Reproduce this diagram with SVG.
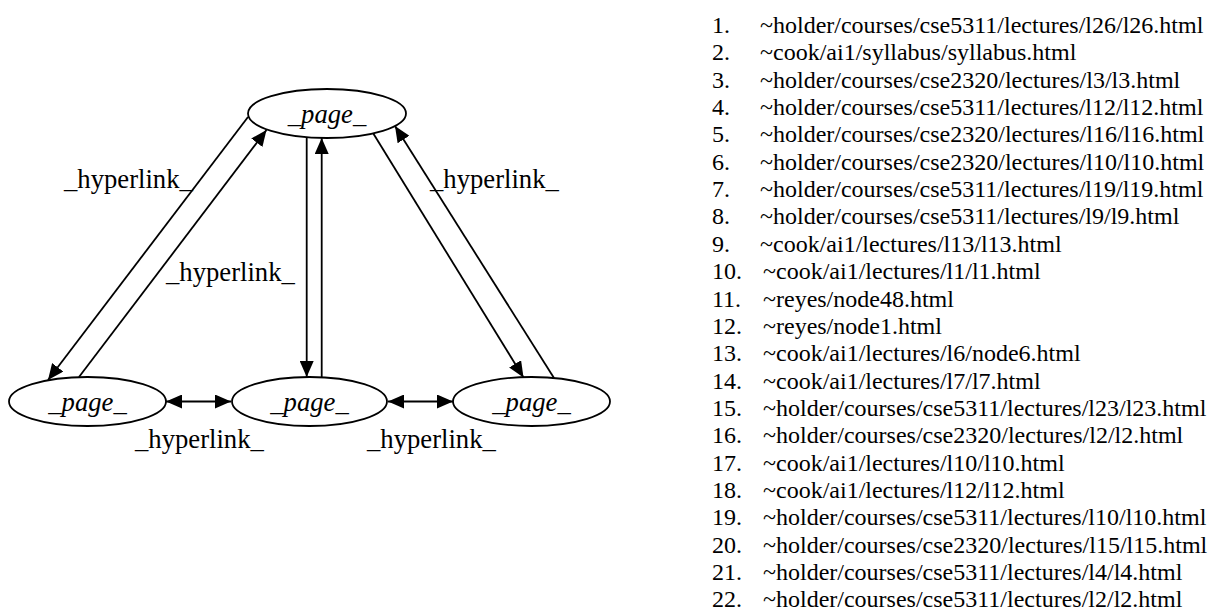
<svg xmlns="http://www.w3.org/2000/svg" width="1210" height="612" viewBox="0 0 1210 612">
<style>
  .node ellipse { fill: #ffffff; stroke: #000000; stroke-width: 1.8; }
  .node text { font-family: "Liberation Serif", "Times New Roman", serif; font-style: italic; font-size: 26.67px; text-anchor: middle; fill: #000; }
  .edge { stroke: #000; stroke-width: 1.8; fill: none; }
  .elabel { font-family: "Liberation Serif", "Times New Roman", serif; font-size: 26.67px; fill: #000; }
  .list text { font-family: "Liberation Serif", "Times New Roman", serif; font-size: 24px; fill: #000; }
</style>
<defs>
  <marker id="arrow" markerUnits="userSpaceOnUse" markerWidth="17" markerHeight="14" refX="16" refY="7" orient="auto-start-reverse" viewBox="0 0 17 14">
    <path d="M0,0 L16,7 L0,14 z" fill="#000"/>
  </marker>
</defs>
<rect width="1210" height="612" fill="#ffffff"/>

<g id="connectors">
  <line class="edge" x1="248" y1="117" x2="48" y2="380" marker-end="url(#arrow)"/>
  <line class="edge" x1="79" y1="377" x2="266.5" y2="130" marker-end="url(#arrow)"/>
  <line class="edge" x1="306.7" y1="137" x2="306.7" y2="377" marker-end="url(#arrow)"/>
  <line class="edge" x1="321.7" y1="377.3" x2="321.7" y2="138" marker-end="url(#arrow)"/>
  <line class="edge" x1="373" y1="133" x2="523.5" y2="377.5" marker-end="url(#arrow)"/>
  <line class="edge" x1="554" y1="378" x2="395" y2="126" marker-end="url(#arrow)"/>
  <line class="edge" x1="166" y1="401.5" x2="231" y2="401.5" marker-start="url(#arrow)" marker-end="url(#arrow)"/>
  <line class="edge" x1="388" y1="401.5" x2="453" y2="401.5" marker-start="url(#arrow)" marker-end="url(#arrow)"/>
  <text class="elabel" x="64" y="188">_hyperlink_</text>
  <text class="elabel" x="166" y="281">_hyperlink_</text>
  <text class="elabel" x="430" y="188">_hyperlink_</text>
  <text class="elabel" x="135" y="448">_hyperlink_</text>
  <text class="elabel" x="367" y="448">_hyperlink_</text>
</g>

<g id="node-top" class="node">
  <ellipse cx="327" cy="113.5" rx="79" ry="24.5"/>
  <text x="327" y="123">_page_</text>
</g>
<g id="node-left" class="node">
  <ellipse cx="87.5" cy="401.5" rx="78.5" ry="24.5"/>
  <text x="87.5" y="411">_page_</text>
</g>
<g id="node-middle" class="node">
  <ellipse cx="309.5" cy="401.5" rx="77.5" ry="24.5"/>
  <text x="309.5" y="411">_page_</text>
</g>
<g id="node-right" class="node">
  <ellipse cx="531.5" cy="401.5" rx="78.5" ry="24.5"/>
  <text x="531.5" y="411">_page_</text>
</g>

<g id="list" class="list">
  <text x="712" y="33">1.</text><text x="760" y="33">~holder/courses/cse5311/lectures/l26/l26.html</text>
  <text x="712" y="60.3">2.</text><text x="760" y="60.3">~cook/ai1/syllabus/syllabus.html</text>
  <text x="712" y="87.7">3.</text><text x="760" y="87.7">~holder/courses/cse2320/lectures/l3/l3.html</text>
  <text x="712" y="115">4.</text><text x="760" y="115">~holder/courses/cse5311/lectures/l12/l12.html</text>
  <text x="712" y="142.4">5.</text><text x="760" y="142.4">~holder/courses/cse2320/lectures/l16/l16.html</text>
  <text x="712" y="169.7">6.</text><text x="760" y="169.7">~holder/courses/cse2320/lectures/l10/l10.html</text>
  <text x="712" y="197.1">7.</text><text x="760" y="197.1">~holder/courses/cse5311/lectures/l19/l19.html</text>
  <text x="712" y="224.4">8.</text><text x="760" y="224.4">~holder/courses/cse5311/lectures/l9/l9.html</text>
  <text x="712" y="251.8">9.</text><text x="760" y="251.8">~cook/ai1/lectures/l13/l13.html</text>
  <text x="712" y="279.1">10.</text><text x="763" y="279.1">~cook/ai1/lectures/l1/l1.html</text>
  <text x="712" y="306.5">11.</text><text x="763" y="306.5">~reyes/node48.html</text>
  <text x="712" y="333.8">12.</text><text x="763" y="333.8">~reyes/node1.html</text>
  <text x="712" y="361.2">13.</text><text x="763" y="361.2">~cook/ai1/lectures/l6/node6.html</text>
  <text x="712" y="388.5">14.</text><text x="763" y="388.5">~cook/ai1/lectures/l7/l7.html</text>
  <text x="712" y="415.9">15.</text><text x="763" y="415.9">~holder/courses/cse5311/lectures/l23/l23.html</text>
  <text x="712" y="443.2">16.</text><text x="763" y="443.2">~holder/courses/cse2320/lectures/l2/l2.html</text>
  <text x="712" y="470.6">17.</text><text x="763" y="470.6">~cook/ai1/lectures/l10/l10.html</text>
  <text x="712" y="497.9">18.</text><text x="763" y="497.9">~cook/ai1/lectures/l12/l12.html</text>
  <text x="712" y="525.3">19.</text><text x="763" y="525.3">~holder/courses/cse5311/lectures/l10/l10.html</text>
  <text x="712" y="552.6">20.</text><text x="763" y="552.6">~holder/courses/cse2320/lectures/l15/l15.html</text>
  <text x="712" y="580">21.</text><text x="763" y="580">~holder/courses/cse5311/lectures/l4/l4.html</text>
  <text x="712" y="607">22.</text><text x="763" y="607">~holder/courses/cse5311/lectures/l2/l2.html</text>
</g>
</svg>
